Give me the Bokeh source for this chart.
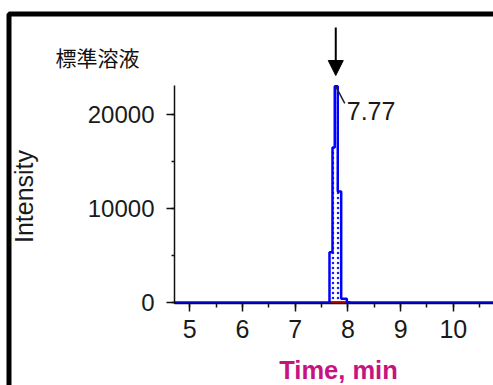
import math
from bokeh.plotting import figure
from bokeh.models import (Range1d, SingleIntervalTicker, Label, Arrow, NormalHead,
                          BoxAnnotation, ColumnDataSource)
from bokeh.embed import file_html
from bokeh.resources import INLINE

# Extracted ion chromatogram of the standard solution (step-sampled trace)
time_min = [4.70, 7.62, 7.651, 7.708, 7.751, 7.808, 7.873, 7.98, 10.80]
intensity = [0, 0, 5350, 16500, 23000, 11800, 400, 0, 0]

peak_rt = 7.77
peak_height = 23000
integ_start = 7.62
integ_end = 8.05

x_tick_interval = 1
y_tick_interval = 10000
sample_title = "標準溶液"
x_title = "Time, min"
y_title = "Intensity"

FONT = "Liberation Sans"
W, H = 493, 385
# visible extent of the two axes
AX_X0, AX_X1 = 4.71, 10.763
AX_Y0, AX_Y1 = -106, 23085
# pixel box of the axes inside the canvas
LEFT, TOP, BOTTOM = 174, 85, 303
UX = (AX_X1 - AX_X0) / (W - LEFT)      # minutes per px
UY = (AX_Y1 - AX_Y0) / (BOTTOM - TOP)  # counts per px

# the plotting frame spans the whole canvas; axes sit inside it
x_range = Range1d(AX_X0 - LEFT * UX, AX_X1)
y_range = Range1d(AX_Y0 - (H - BOTTOM) * UY, AX_Y1 + TOP * UY)

p = figure(width=W, height=H, output_backend="svg", toolbar_location=None,
           x_range=x_range, y_range=y_range,
           min_border=0)
p.outline_line_color = None
p.xgrid.visible = False
p.ygrid.visible = False
p.background_fill_color = "white"
p.border_fill_color = "white"

src = ColumnDataSource(dict(t=time_min, i=intensity, z=[0] * len(time_min)))

# dotted shading of the integrated peak area
p.varea_step(x="t", y1="z", y2="i", source=src, step_mode="after",
             fill_alpha=0, hatch_pattern="dot", hatch_color="#0000ff",
             hatch_scale=5, hatch_weight=1.6, hatch_alpha=0.9)

# axes, anchored at the lower-left corner of the data area
for ax in (p.xaxis[0], p.yaxis[0]):
    ax.axis_line_color = "#111111"
    ax.axis_line_width = 1.5
    ax.major_tick_line_color = "#111111"
    ax.minor_tick_line_color = "#111111"
    ax.major_tick_line_width = 1.5
    ax.minor_tick_line_width = 1.5
    ax.major_tick_in = 0
    ax.minor_tick_in = 0
    ax.major_label_text_font = FONT
    ax.major_label_text_font_size = "24px"
    ax.major_label_text_color = "#1a1a1a"

p.xaxis.fixed_location = AX_Y0
p.xaxis.bounds = (AX_X0, AX_X1)
p.xaxis.ticker = SingleIntervalTicker(interval=x_tick_interval, num_minor_ticks=2)
p.xaxis.major_tick_out = 8
p.xaxis.minor_tick_out = 4
p.xaxis.major_label_standoff = 8
p.xaxis.major_label_text_font_size = "25px"

p.yaxis.fixed_location = AX_X0
p.yaxis.bounds = (AX_Y0, AX_Y1)
p.yaxis.ticker = SingleIntervalTicker(interval=y_tick_interval, num_minor_ticks=2)
p.yaxis.major_tick_out = 8
p.yaxis.minor_tick_out = 3
p.yaxis.major_label_standoff = 12
p.yaxis.major_label_orientation = "horizontal"

# integration baseline
p.line([integ_start, integ_end], [0, 0], line_color="#e00000", line_width=3)

# chromatogram trace
p.step(x="t", y="i", source=src, mode="after", line_color="#0000ff", line_width=2.5)

# retention-time leader and label
p.segment(x0=[peak_rt], y0=[peak_height],
          x1=[peak_rt + 9 * UX], y1=[peak_height - 17 * UY],
          line_color="#222222", line_width=1.5)
p.add_layout(Label(x=peak_rt, y=peak_height, text=f"{peak_rt:.2f}",
                   x_offset=11, y_offset=-16, text_baseline="top",
                   text_font=FONT, text_font_size="25px", text_color="#1a1a1a"))

# arrow marking the peak of interest
p.add_layout(Arrow(x_start=peak_rt, y_start=AX_Y1 + (TOP - 27) * UY,
                   x_end=peak_rt, y_end=AX_Y1 + (TOP - 75) * UY,
                   line_color="black", line_width=2,
                   end=NormalHead(size=15, fill_color="black", line_color="black")))

# titles (screen units: x from left, y from bottom)
p.add_layout(Label(x=55, y=H - 56, x_units="screen", y_units="screen",
                   text=sample_title, text_baseline="middle",
                   text_font="Noto Sans CJK JP", text_font_size="21px",
                   text_color="#111111"))
p.add_layout(Label(x=23, y=H - 196, x_units="screen", y_units="screen",
                   text=y_title, angle=math.pi / 2, text_align="center",
                   text_baseline="middle", text_font=FONT, text_font_size="25px",
                   text_color="#1a1a1a"))
p.add_layout(Label(x=338, y=H - 369, x_units="screen", y_units="screen",
                   text=x_title, text_align="center", text_baseline="middle",
                   text_font=FONT, text_font_size="25.5px", text_font_style="bold",
                   text_color="#c8127f"))

# panel frame
p.add_layout(BoxAnnotation(left=8.5, right=W + 50, top=H - 13.5, bottom=-50,
                           left_units="screen", right_units="screen",
                           top_units="screen", bottom_units="screen",
                           fill_alpha=0, line_color="black", line_alpha=1,
                           line_width=5))

open("out.html", "w").write(file_html(p, INLINE))
